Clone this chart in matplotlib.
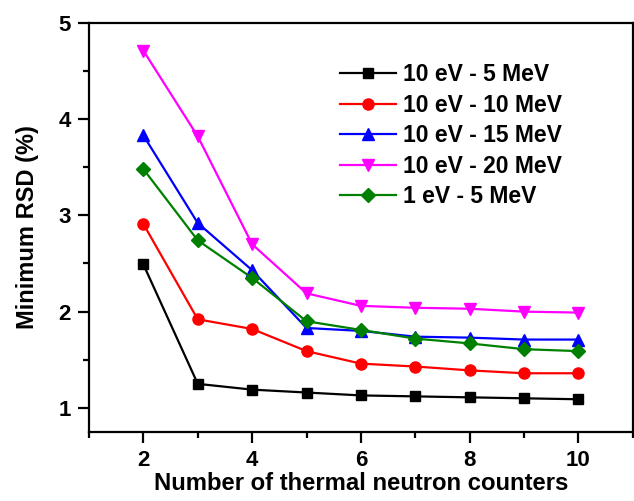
import numpy as np
import matplotlib
matplotlib.use('Agg')
import matplotlib.pyplot as plt
from matplotlib.ticker import MultipleLocator

# --- Data ---
counters = [2, 3, 4, 5, 6, 7, 8, 9, 10]
rsd_10eV_5MeV = [2.49, 1.25, 1.19, 1.16, 1.13, 1.12, 1.11, 1.10, 1.09]
rsd_10eV_10MeV = [2.91, 1.92, 1.82, 1.59, 1.46, 1.43, 1.39, 1.36, 1.36]
rsd_10eV_15MeV = [3.83, 2.92, 2.43, 1.83, 1.80, 1.74, 1.73, 1.71, 1.71]
rsd_10eV_20MeV = [4.71, 3.82, 2.70, 2.19, 2.06, 2.04, 2.03, 2.00, 1.99]
rsd_1eV_5MeV = [3.48, 2.74, 2.35, 1.90, 1.81, 1.72, 1.67, 1.61, 1.59]

labels = ['10 eV - 5 MeV', '10 eV - 10 MeV', '10 eV - 15 MeV',
          '10 eV - 20 MeV', '1 eV - 5 MeV']
series = [rsd_10eV_5MeV, rsd_10eV_10MeV, rsd_10eV_15MeV, rsd_10eV_20MeV, rsd_1eV_5MeV]
colors = ['black', 'red', 'blue', 'magenta', 'green']
markers = ['s', 'o', '^', 'v', 'D']
msizes = [7.5, 8, 9, 9, 7.5]

plt.rcParams['font.family'] = ['Liberation Sans', 'DejaVu Sans']
plt.rcParams['font.weight'] = 'bold'

fig = plt.figure(figsize=(6.34, 5.01), dpi=100)
ax = fig.add_axes([0.1404, 0.1377, 0.8576, 0.817])

for y, lab, c, m, ms in zip(series, labels, colors, markers, msizes):
    ax.plot(counters, y, color=c, marker=m, markersize=ms, lw=1.6, label=lab)

ax.set_xlim(1, 11)
ax.set_ylim(0.75, 5)
ax.xaxis.set_minor_locator(MultipleLocator(1))
ax.yaxis.set_minor_locator(MultipleLocator(0.5))
ax.set_xticks([2, 4, 6, 8, 10])
ax.set_yticks([1, 2, 3, 4, 5])

ax.tick_params(which='major', direction='out', length=8, width=1.6, labelsize=16, pad=5)
ax.tick_params(which='minor', direction='out', length=4.5, width=1.6)
for lbl in ax.get_xticklabels() + ax.get_yticklabels():
    lbl.set_fontweight('bold')
for sp in ax.spines.values():
    sp.set_linewidth(1.6)

ax.set_xlabel('Number of thermal neutron counters', fontsize=17.2, fontweight='bold', labelpad=1)
ax.set_ylabel('Minimum RSD (%)', fontsize=17, fontweight='bold', labelpad=14)

leg = ax.legend(loc='upper left', bbox_to_anchor=(0.536, 0.874), bbox_transform=fig.transFigure,
                frameon=False, prop={'size': 16.5, 'weight': 'bold'}, handlelength=2.45,
                labelspacing=0.33, handletextpad=0.3, borderpad=0, borderaxespad=0)

fig.savefig('out.png', dpi=100)
